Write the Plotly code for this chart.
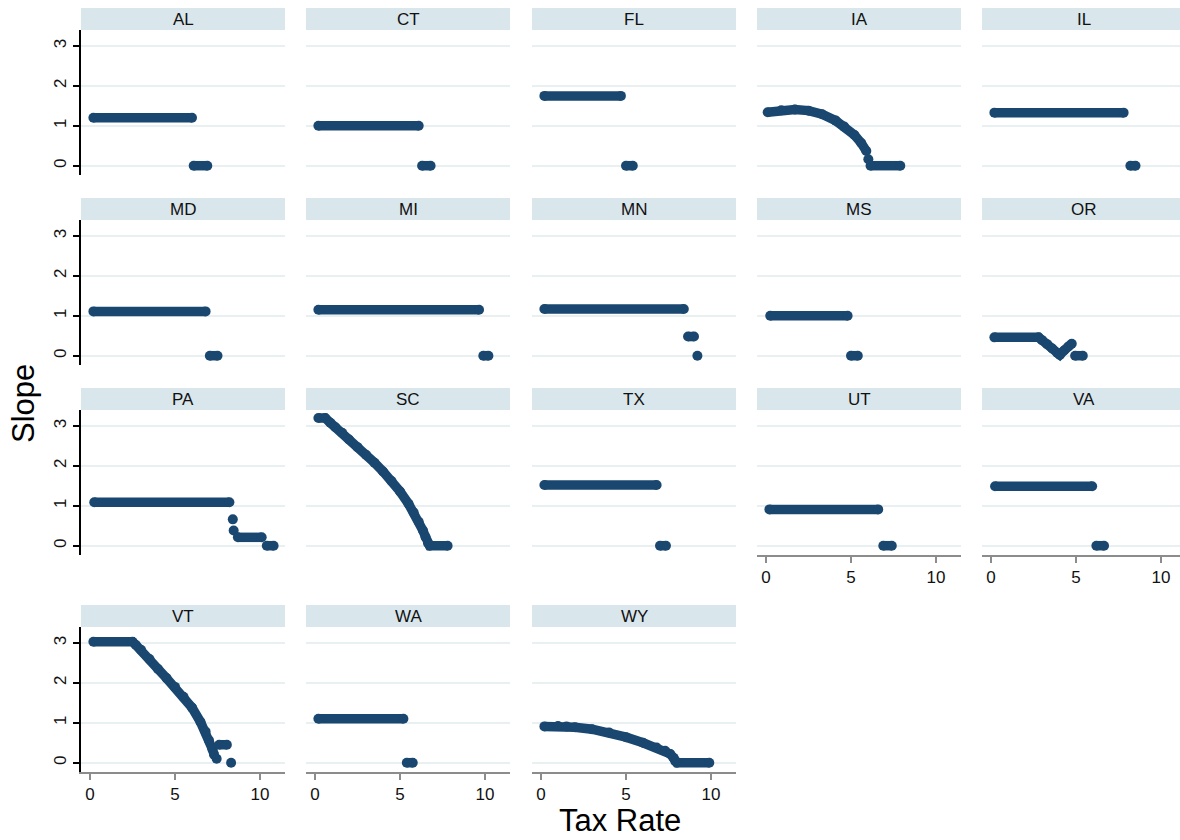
import plotly.graph_objects as go

# ---------------- data ----------------
states = ["AL", "CT", "FL", "IA", "IL", "MD", "MI", "MN", "MS", "OR",
          "PA", "SC", "TX", "UT", "VA", "VT", "WA", "WY"]

AL_x = [0.2, 6.0, None, 6.1, 6.9]
AL_y = [1.2, 1.2, None, 0, 0]
CT_x = [0.2, 6.1, None, 6.3, 6.8]
CT_y = [1.0, 1.0, None, 0, 0]
FL_x = [0.2, 4.7, None, 5.0, 5.4]
FL_y = [1.75, 1.75, None, 0, 0]
IA_x = [0.1, 0.9, 1.7, 2.5, 3.3, 4.1, 4.6, 5.2, 5.6, 5.9, None, 6.02, None, 6.15, 7.9]
IA_y = [1.34, 1.39, 1.41, 1.38, 1.29, 1.13, 0.98, 0.77, 0.57, 0.37, None, 0.16, None, 0, 0]
IL_x = [0.2, 7.8, None, 8.2, 8.5]
IL_y = [1.33, 1.33, None, 0, 0]
MD_x = [0.2, 6.8, None, 7.05, 7.5]
MD_y = [1.11, 1.11, None, 0, 0]
MI_x = [0.2, 9.65, None, 9.9, 10.2]
MI_y = [1.15, 1.15, None, 0, 0]
MN_x = [0.2, 8.4, None, 8.65, 9.0, None, 9.2]
MN_y = [1.17, 1.17, None, 0.48, 0.48, None, 0]
MS_x = [0.25, 4.8, None, 5.0, 5.4]
MS_y = [1.0, 1.0, None, 0, 0]
OR_x = [0.2, 2.8, 3.0, 3.3, 3.6, 3.9, 4.05, 4.3, 4.55, 4.75, None, 4.95, 5.4]
OR_y = [0.46, 0.46, 0.39, 0.29, 0.18, 0.07, 0.02, 0.13, 0.23, 0.3, None, 0, 0]
PA_x = [0.25, 8.2, None, 8.4, None, 8.45, None, 8.7, 10.1, None, 10.4, 10.8]
PA_y = [1.09, 1.09, None, 0.66, None, 0.38, None, 0.21, 0.21, None, 0, 0]
SC_x = [0.2, 0.6, 0.9, 1.2, 1.6, 2.0, 2.5, 3.0, 3.5, 4.0, 4.5, 5.0, 5.5, 5.8, 6.1,
        6.35, 6.5, 6.65, 6.75, 7.8]
SC_y = [3.2, 3.2, 3.08, 2.97, 2.83, 2.66, 2.47, 2.28, 2.08, 1.86, 1.62, 1.36, 1.05,
        0.84, 0.6, 0.38, 0.22, 0.06, 0, 0]
TX_x = [0.2, 6.8, None, 7.0, 7.35]
TX_y = [1.52, 1.52, None, 0, 0]
UT_x = [0.2, 6.6, None, 6.9, 7.4]
UT_y = [0.91, 0.91, None, 0, 0]
VA_x = [0.24, 5.95, None, 6.2, 6.65]
VA_y = [1.49, 1.49, None, 0, 0]
VT_x = [0.2, 2.5, 2.7, 3.0, 3.5, 4.0, 4.5, 5.0, 5.5, 6.0, 6.5, 6.8, 7.0, 7.2, 7.3,
        None, 7.45, None, 7.6, 8.05, None, 8.3]
VT_y = [3.03, 3.03, 2.95, 2.83, 2.6, 2.35, 2.12, 1.9, 1.65, 1.38, 1.02, 0.78, 0.56,
        0.34, 0.2, None, 0.1, None, 0.45, 0.45, None, 0]
WA_x = [0.2, 5.2, None, 5.4, 5.75]
WA_y = [1.1, 1.1, None, 0, 0]
WY_x = [0.2, 1.0, 1.5, 2.0, 3.0, 4.0, 5.0, 6.0, 6.8, 7.3, 7.6, 7.8, 7.9, 8.0, 9.9]
WY_y = [0.91, 0.92, 0.91, 0.89, 0.84, 0.76, 0.64, 0.5, 0.38, 0.3, 0.22, 0.12, 0.04, 0, 0]

series_x = [AL_x, CT_x, FL_x, IA_x, IL_x, MD_x, MI_x, MN_x, MS_x, OR_x,
            PA_x, SC_x, TX_x, UT_x, VA_x, VT_x, WA_x, WY_x]
series_y = [AL_y, CT_y, FL_y, IA_y, IL_y, MD_y, MI_y, MN_y, MS_y, OR_y,
            PA_y, SC_y, TX_y, UT_y, VA_y, VT_y, WA_y, WY_y]

x_ticks = [0, 5, 10]
y_ticks = [0, 1, 2, 3]

# ---------------- layout geometry (page pixels) ----------------
W, H = 1180, 840
col_left = [81, 306, 532, 757, 982]
panel_w = 204
row_top = [30, 220, 410, 627]
panel_h = 145
head_h = 22
x0_off = 9          # px from panel left edge to x=0
px_per_x = 17.0
y0_off = 135.7      # px from plot top to y=0
px_per_y = 39.9


def fx(p):
    return p / W


def fy(p):
    return 1 - p / H


NAVY = "#1a476f"
RED = "#d0204b"
GRID = "#e8f0f2"
STRIP = "#d9e6ec"
TICKFONT = dict(family="Liberation Sans Narrow, Arial Narrow, Liberation Sans, Arial",
                size=17, color="#111111")

fig = go.Figure()
layout = dict(
    width=W, height=H,
    margin=dict(l=0, r=0, t=0, b=0),
    paper_bgcolor="white", plot_bgcolor="white",
    showlegend=False,
)
shapes = []
annotations = []

bottom_row_of_col = {0: 3, 1: 3, 2: 3, 3: 2, 4: 2}

for i, st in enumerate(states):
    r, c = divmod(i, 5)
    k = "" if i == 0 else str(i + 1)
    L = col_left[c]
    R = min(L + panel_w, W)
    T = row_top[r]
    B = T + panel_h
    xd = [fx(L), fx(R)]
    yd = [fy(B), fy(T)]
    xr = [-x0_off / px_per_x, (R - L - x0_off) / px_per_x]
    yr = [-(panel_h - y0_off) / px_per_y, y0_off / px_per_y]

    is_bottom = (r == bottom_row_of_col[c])
    layout["xaxis" + k] = dict(
        domain=xd, range=xr, anchor="y" + k, fixedrange=True,
        showgrid=False, zeroline=False,
        tickvals=x_ticks,
        showline=is_bottom, linecolor="#8c8c8c", linewidth=1.5,
        ticks="outside" if is_bottom else "", ticklen=6, tickcolor="#8c8c8c", tickwidth=1.5,
        showticklabels=is_bottom, tickfont=TICKFONT,
    )
    first = (c == 0)
    layout["yaxis" + k] = dict(
        domain=yd, range=yr, anchor="x" + k, fixedrange=True,
        showgrid=True, gridcolor=GRID, gridwidth=1.5, zeroline=False,
        tickvals=y_ticks,
        showline=first, linecolor="black", linewidth=1.5,
        ticks="outside" if first else "", ticklen=6, tickcolor="black", tickwidth=1.5,
        showticklabels=first, tickangle=-90, tickfont=TICKFONT,
    )

    # header strip
    shapes.append(dict(type="rect", xref="paper", yref="paper",
                       x0=fx(L), x1=fx(R), y0=fy(T), y1=fy(T - head_h),
                       fillcolor=STRIP, line=dict(width=0), layer="below"))
    annotations.append(dict(xref="paper", yref="paper",
                            x=fx(L + panel_w / 2), y=fy(T - head_h / 2),
                            text=st, showarrow=False, xanchor="center", yanchor="middle",
                            font=dict(family="Liberation Sans, Arial", size=17, color="#111111")))
    # reference line at zero
    shapes.append(dict(type="line", xref="x" + k + " domain", yref="y" + k,
                       x0=0, x1=1, y0=0, y1=0, line=dict(color=RED, width=1.5),
                       layer="below"))

    fig.add_trace(go.Scatter(
        x=series_x[i], y=series_y[i], mode="lines+markers",
        xaxis="x" + k, yaxis="y" + k,
        line=dict(color=NAVY, width=9.5),
        marker=dict(color=NAVY, size=10, line=dict(width=0)),
        connectgaps=False, hoverinfo="x+y", name=st,
    ))

annotations.append(dict(xref="paper", yref="paper", x=fx(620), y=fy(820),
                        text="Tax Rate", showarrow=False, xanchor="center", yanchor="middle",
                        font=dict(family="Liberation Sans, Arial", size=31, color="black")))
annotations.append(dict(xref="paper", yref="paper", x=fx(23), y=fy(404),
                        text="Slope", showarrow=False, xanchor="center", yanchor="middle",
                        textangle=-90,
                        font=dict(family="Liberation Sans, Arial", size=31, color="black")))

layout["shapes"] = shapes
layout["annotations"] = annotations
fig.update_layout(**layout)
# remove the default 8px page margin so the 1180x840 figure fills the window
fig.write_html("out.html",
               config={"displayModeBar": False},
               post_script="document.body.style.margin='0';document.body.style.overflow='hidden';")
